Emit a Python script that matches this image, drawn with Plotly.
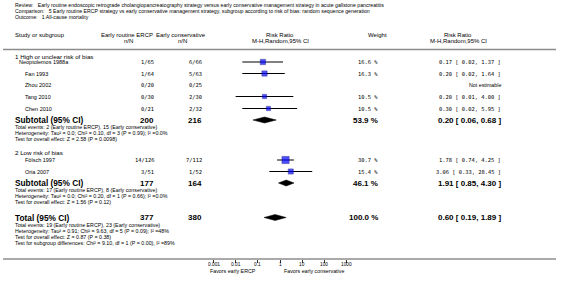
import plotly.graph_objects as go
import math

W, H = 566, 284

# ---------------- data ----------------
review = "Review:   Early routine endoscopic retrograde cholangiopancreatography strategy versus early conservative management strategy in acute gallstone pancreatitis"
comparison = "Comparison:   5 Early routine ERCP strategy vs early conservative management strategy, subgroup according to risk of bias: random sequence generation"
outcome = "Outcome:   1 All-cause mortality"

group_titles = ["1 High or unclear risk of bias", "2 Low risk of bias"]

g1_studies = ["Neoptolemos 1988a", "Fan 1993", "Zhou 2002", "Tang 2010", "Chen 2010"]
g1_ercp = ["1/65", "1/64", "0/20", "0/30", "0/21"]
g1_cons = ["6/66", "5/63", "0/25", "2/30", "2/32"]
g1_weight = [16.6, 16.3, None, 10.5, 10.5]
g1_rr = [0.17, 0.20, None, 0.20, 0.30]
g1_lo = [0.02, 0.02, None, 0.01, 0.02]
g1_hi = [1.37, 1.64, None, 4.00, 5.95]

g2_studies = ["Fölsch 1997", "Oria 2007"]
g2_ercp = ["14/126", "3/51"]
g2_cons = ["7/112", "1/52"]
g2_weight = [30.7, 15.4]
g2_rr = [1.78, 3.06]
g2_lo = [0.74, 0.33]
g2_hi = [4.25, 28.45]

sub_labels = ["Subtotal (95% CI)", "Subtotal (95% CI)", "Total (95% CI)"]
sub_n_ercp = [200, 177, 377]
sub_n_cons = [216, 164, 380]
sub_weight = [53.9, 46.1, 100.0]
sub_rr = [0.20, 1.91, 0.60]
sub_lo = [0.06, 0.85, 0.19]
sub_hi = [0.68, 4.30, 1.89]

g1_notes = ["Total events: 2 (Early routine ERCP), 15 (Early conservative)",
            "Heterogeneity: Tau² = 0.0; Chi² = 0.10, df = 3 (P = 0.99); I² =0.0%",
            "Test for overall effect: Z = 2.58 (P = 0.0098)"]
g2_notes = ["Total events: 17 (Early routine ERCP), 8 (Early conservative)",
            "Heterogeneity: Tau² = 0.0; Chi² = 0.20, df = 1 (P = 0.66); I² =0.0%",
            "Test for overall effect: Z = 1.56 (P = 0.12)"]
tot_notes = ["Total events: 19 (Early routine ERCP), 23 (Early conservative)",
             "Heterogeneity: Tau² = 0.91; Chi² = 9.63, df = 5 (P = 0.09); I² =48%",
             "Test for overall effect: Z = 0.87 (P = 0.38)",
             "Test for subgroup differences: Chi² = 9.10, df = 1 (P = 0.00), I² =89%"]

tick_vals = [0.001, 0.01, 0.1, 1, 10, 100, 1000]
tick_text = ["0.001", "0.01", "0.1", "1", "10", "100", "1000"]
favors_left = "Favors early ERCP"
favors_right = "Favors early conservative"

# ---------------- layout (pixel rows) ----------------
FONT = "Liberation Sans, Arial, sans-serif"
NUMFONT = "DejaVu Sans Mono, monospace"
y_title = [5, 11, 17]
y_head1, y_head2 = 35, 41
y_rule = 49.5
y_g1_title = 56
y_g1 = [62, 73.5, 85, 96.5, 108.5]
y_sub1 = 120
y_g1_notes = [127, 133, 139]
y_g2_title = 152.5
y_g2 = [160, 171.5]
y_sub2 = 183
y_g2_notes = [189.5, 195.5, 201.5]
y_tot = 217.5
y_tot_notes = [224.5, 230.5, 236.5, 242.5]
y_axis = 259
y_ticklab = 264
y_fav = 270.5

X_LEFT = 12.5
X_STUDY = 23
X_ERCP = 156
X_CONS = 204
X_WEIGHT = 380
X_RR = 503

ax_lo_px, ax_hi_px = 213.5, 346.5

fig = go.Figure()
ann = []

def px(x):
    return x / W

def text(x, y, s, size=5.3, anchor="left", bold=False, family=FONT, xref="paper"):
    if bold:
        s = "<b>" + s + "</b>"
    ann.append(dict(x=px(x) if xref == "paper" else x, y=y, xref=xref, yref="y", text=s,
                    showarrow=False, xanchor=anchor, yanchor="middle",
                    font=dict(family=family, size=size, color="black")))

# title block
for yy, s in zip(y_title, [review, comparison, outcome]):
    text(13, yy, s, size=5.2)

# column headers
HS = 6.0
text(X_LEFT, y_head1, "Study or subgroup", size=HS)
text(127, y_head1, "Early routine ERCP", size=HS, anchor="center")
text(128, y_head2, "n/N", size=HS, anchor="center")
text(181, y_head1, "Early conservative", size=HS, anchor="center")
text(182, y_head2, "n/N", size=HS, anchor="center")
text(280, y_head1, "Risk Ratio", size=HS, anchor="center")
text(280, y_head2, "M-H,Random,95% CI", size=HS, anchor="center")
text(377, y_head1, "Weight", size=HS, anchor="center")
text(458, y_head1, "Risk Ratio", size=HS, anchor="center")
text(458, y_head2, "M-H,Random,95% CI", size=HS, anchor="center")

def fmt_rr(r, l, h):
    return "%.2f [ %.2f, %.2f ]" % (r, l, h)

NS = 5.4
def study_rows(names, ercp, cons, weight, rr, lo, hi, ys):
    for nm, e, c, w, r, l, h, yy in zip(names, ercp, cons, weight, rr, lo, hi, ys):
        xs = 17 if len(nm) > 14 else X_STUDY
        text(xs, yy, nm, size=5.5)
        text(X_ERCP, yy, e, size=NS, anchor="right", family=NUMFONT)
        text(X_CONS, yy, c, size=NS, anchor="right", family=NUMFONT)
        if r is None:
            text(X_RR, yy, "Not estimable", size=5.3, anchor="right")
        else:
            text(X_WEIGHT, yy, "%.1f %%" % w, size=NS, anchor="right", family=NUMFONT)
            text(X_RR, yy, fmt_rr(r, l, h), size=NS, anchor="right", family=NUMFONT)

text(X_LEFT, y_g1_title, group_titles[0], size=6.2)
study_rows(g1_studies, g1_ercp, g1_cons, g1_weight, g1_rr, g1_lo, g1_hi, y_g1)
text(X_LEFT, y_g2_title, group_titles[1], size=6.2)
study_rows(g2_studies, g2_ercp, g2_cons, g2_weight, g2_rr, g2_lo, g2_hi, y_g2)

BS = 8.0
for lab, ne, nc, w, r, l, h, yy in zip(sub_labels, sub_n_ercp, sub_n_cons, sub_weight,
                                        sub_rr, sub_lo, sub_hi, [y_sub1, y_sub2, y_tot]):
    text(X_LEFT, yy, lab, size=8.3, bold=True)
    text(X_ERCP, yy, str(ne), size=BS, bold=True, anchor="right")
    text(X_CONS, yy, str(nc), size=BS, bold=True, anchor="right")
    text(X_WEIGHT, yy, "%.1f %%" % w, size=BS, bold=True, anchor="right")
    text(X_RR, yy, fmt_rr(r, l, h), size=BS, bold=True, anchor="right")

for notes, ys in [(g1_notes, y_g1_notes), (g2_notes, y_g2_notes), (tot_notes, y_tot_notes)]:
    for s, yy in zip(notes, ys):
        text(X_LEFT, yy, s, size=5.3)

# tick labels placed on the log axis scale
for tv, tt in zip(tick_vals, tick_text):
    text(math.log10(tv), y_ticklab, tt, size=4.8, anchor="center", xref="x")

text(258, y_fav, favors_left, size=5.3, anchor="right")
text(282, y_fav, favors_right, size=5.3, anchor="left")

# ---------------- marks ----------------
all_rr = g1_rr + g2_rr
all_lo = g1_lo + g2_lo
all_hi = g1_hi + g2_hi
all_w = g1_weight + g2_weight
all_y = y_g1 + y_g2

ci_x, ci_y = [], []
for l, h, yy in zip(all_lo, all_hi, all_y):
    if l is None:
        continue
    ci_x += [l, h, None]
    ci_y += [yy, yy, None]
fig.add_trace(go.Scatter(x=ci_x, y=ci_y, mode="lines", line=dict(color="black", width=1),
                         hoverinfo="skip", showlegend=False))

sq_x = [r for r in all_rr if r is not None]
sq_y = [yy for r, yy in zip(all_rr, all_y) if r is not None]
sq_s = [1.3 * math.sqrt(w) for w in all_w if w is not None]
fig.add_trace(go.Scatter(x=sq_x, y=sq_y, mode="markers",
                         marker=dict(symbol="square", color="#0000ff", size=sq_s,
                                     line=dict(color="#000080", width=0.6)),
                         showlegend=False))

for r, l, h, yy in zip(sub_rr, sub_lo, sub_hi, [y_sub1, y_sub2, y_tot]):
    fig.add_trace(go.Scatter(x=[l, r, h, r, l], y=[yy, yy - 3, yy, yy + 3, yy],
                             mode="lines", fill="toself", fillcolor="black",
                             line=dict(color="black", width=0.5), showlegend=False))

# ---------------- shapes ----------------
shapes = [
    dict(type="line", xref="paper", yref="y", x0=px(3), x1=px(556), y0=y_rule, y1=y_rule,
         line=dict(color="#8c8c8c", width=1.5)),
    dict(type="line", xref="paper", yref="y", x0=px(3), x1=px(556), y0=y_axis, y1=y_axis,
         line=dict(color="#555555", width=1)),
    dict(type="line", xref="x", yref="y", x0=0, x1=0, y0=y_rule + 1, y1=y_axis,
         line=dict(color="#d0d0d0", width=1.5), layer="below"),
]

fig.update_layout(
    width=W, height=H, margin=dict(l=0, r=0, t=0, b=0),
    paper_bgcolor="white", plot_bgcolor="white",
    showlegend=False, annotations=ann, shapes=shapes,
    xaxis=dict(type="log", range=[-3, 3], domain=[px(ax_lo_px), px(ax_hi_px)],
               anchor="free", position=1 - y_axis / H,
               tickvals=tick_vals, ticks="outside", ticklen=2.5, showticklabels=False,
               tickwidth=0.8, tickcolor="#333333", showgrid=False, zeroline=False,
               showline=False),
    yaxis=dict(range=[H, 0], domain=[0, 1], visible=False, showgrid=False, zeroline=False),
)

fig.write_html(
    "out.html",
    config={"displayModeBar": False},
    post_script="document.documentElement.style.margin='0';document.body.style.margin='0';"
                "document.body.style.padding='0';document.body.style.overflow='hidden';",
)
